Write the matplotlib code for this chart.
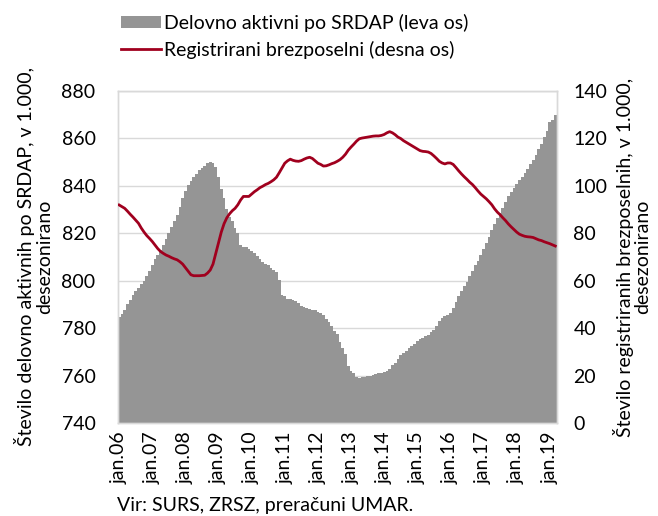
import matplotlib
matplotlib.use("Agg")
import matplotlib.pyplot as plt
import numpy as np
from matplotlib.patches import Patch
from matplotlib.lines import Line2D

plt.rcParams['font.family'] = ['Lato', 'DejaVu Sans']

employed = [784.8, 786, 787.6, 790, 792, 794, 795.5, 797, 798.5, 800,
            802, 804, 806.5, 809, 811, 813, 815, 817.5, 820, 822.5,
            825, 827.5, 831, 835, 838, 840.5, 842, 843.5, 845, 846.5,
            847.5, 848.5, 849.5, 850.2, 849.5, 848, 843.5, 838.5, 835, 830,
            827, 825, 822, 820, 815, 814, 814, 813.5, 812.5, 811.5,
            810.5, 809, 808, 807, 806.5, 805.5, 804.5, 803.5, 800.5, 794,
            793.5, 792.5, 792.5, 792, 791.5, 790.5, 789.5, 789, 788.5, 788,
            787.8, 787.5, 787, 786.5, 785.5, 784, 782.5, 781, 779, 777.5,
            774, 771.5, 769, 764, 762, 761, 759.5, 759.2, 759.3, 759.5,
            759.7, 759.9, 760.2, 760.6, 761, 761.3, 761.6, 762, 763, 764.5,
            765.5, 767, 768.5, 769.5, 770.5, 771.5, 772.5, 773.5, 774.5, 775.3,
            776, 776.6, 777.2, 778.3, 779.2, 781, 783, 784.3, 785.2, 785.7,
            786.5, 788.5, 791, 793.5, 795.5, 797.8, 799.5, 802, 804, 806.5,
            808.5, 811, 813.5, 816, 818.5, 821.5, 824, 826.3, 828.5, 830.5,
            833, 835.5, 837.5, 839.2, 840.6, 842.3, 843.9, 845.5, 847, 849,
            851, 853, 855.5, 857.5, 860.5, 863, 867, 867.5, 870]

unemployed = [91.9, 91.2, 90.5, 89.3, 88, 86.8, 85.5, 84.2, 82.2, 80.5,
              79, 77.8, 76.5, 75, 73.5, 72.3, 71.5, 70.8, 70.3, 69.7,
              69.2, 68.8, 68, 67, 65.5, 64, 62.5, 62.1, 62.1, 62.1,
              62.2, 62.3, 63.2, 64.5, 67, 71.5, 76, 80.5, 84, 86.5,
              88.2, 89.5, 90.5, 92, 94, 95.5, 95.5, 95.5, 96.5, 97.5,
              98.3, 99.2, 99.8, 100.5, 101, 101.7, 102.5, 103.6, 105.5, 107.5,
              109.5, 110.5, 111.2, 110.7, 110.4, 110.3, 110.6, 111.2, 111.7, 112,
              111.5, 110.5, 109.5, 109, 108.3, 108.4, 108.8, 109.3, 109.7, 110.3,
              111, 112, 113.3, 115, 116.3, 117.5, 118.8, 119.8, 120.1, 120.3,
              120.5, 120.7, 120.9, 121, 121, 121.2, 121.6, 122.3, 122.8, 122.3,
              121.5, 120.5, 119.9, 119, 118.3, 117.6, 116.9, 116.2, 115.5, 114.8,
              114.5, 114.4, 114.2, 113.6, 112.6, 111.5, 110.3, 109.6, 109.2, 109.6,
              109.6, 109, 107.7, 106.3, 105, 103.8, 102.7, 101.5, 100.5, 99.2,
              97.8, 96.5, 95.5, 94.5, 93.3, 92, 90.3, 88.9, 87.8, 86.5,
              85.3, 83.9, 82.7, 81.6, 80.5, 79.6, 79.1, 78.7, 78.5, 78.4,
              78.2, 77.7, 77.2, 76.9, 76.4, 76, 75.6, 75.1, 74.6]

tick_labels = ['jan.06', 'jan.07', 'jan.08', 'jan.09', 'jan.10', 'jan.11', 'jan.12',
               'jan.13', 'jan.14', 'jan.15', 'jan.16', 'jan.17', 'jan.18', 'jan.19']

x = np.arange(len(employed))
bar_color = '#959595'
line_color = '#a0001e'
grid_color = '#d9d9d9'
fs = 14

fig = plt.figure(figsize=(6.58, 5.16), dpi=100)
ax = fig.add_axes([0.179, 0.180, 0.667, 0.644])
ax2 = ax.twinx()

ax.bar(x, employed, width=1.0, color=bar_color, linewidth=0, zorder=2)
ax.set_ylim(740, 880)
ax.set_yticks(np.arange(740, 881, 20))
ax.set_xlim(-0.5, len(employed) - 0.5)
ax.set_xticks(np.arange(0, len(employed), 12))
ax.set_xticklabels(tick_labels, rotation=90)
ax.yaxis.grid(True, color=grid_color, linewidth=1.0, zorder=0)
ax.set_axisbelow(True)

ax2.plot(x, unemployed, color=line_color, linewidth=2.0, zorder=3)
ax2.set_ylim(0, 140)
ax2.set_yticks(np.arange(0, 141, 20))

for a in (ax, ax2):
    for s in a.spines.values():
        s.set_color(grid_color)
        s.set_linewidth(1.0)
    a.tick_params(axis='both', length=0, labelsize=fs, colors='black', pad=6)
ax.tick_params(axis='y', pad=16)
ax2.tick_params(axis='y', pad=12)

ax.set_ylabel('Število delovno aktivnih po SRDAP, v 1.000,\ndesezonirano', fontsize=fs,
              labelpad=6, linespacing=1.1)
ax2.set_ylabel('Število registriranih brezposelnih, v 1.000,\ndesezonirano', fontsize=fs,
               rotation=90, labelpad=4, linespacing=1.05)

handles = [Patch(facecolor=bar_color, edgecolor='none'),
           Line2D([0], [0], color=line_color, linewidth=2.0)]
labels = ['Delovno aktivni po SRDAP (leva os)', 'Registrirani brezposelni (desna os)']
fig.legend(handles, labels, loc='upper left', bbox_to_anchor=(0.172, 0.988), frameon=False,
           fontsize=fs, handlelength=2.05, handleheight=0.6, handletextpad=0.15,
           labelspacing=0.45, borderaxespad=0)

fig.text(0.178, 0.004, 'Vir: SURS, ZRSZ, preračuni UMAR.', fontsize=fs, ha='left', va='bottom')

fig.savefig('out.png', dpi=100)
